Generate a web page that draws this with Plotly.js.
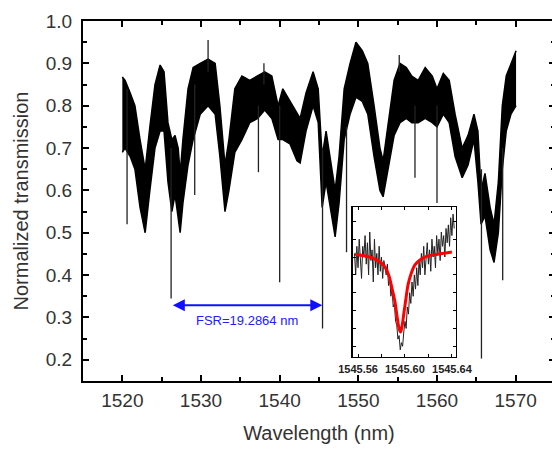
<!DOCTYPE html>
<html>
<head>
<meta charset="utf-8">
<script src="https://cdn.plot.ly/plotly-3.0.1.min.js"></script>
<style>
html,body{margin:0;padding:0;background:#fff;overflow:hidden;width:552px;height:449px;}
#chart{width:556px;height:449px;}
</style>
</head>
<body>
<div id="chart"></div>
<script>
// ---- main spectrum: envelope of the dense noisy trace ----
const wavelength = [1520.0,1520.35,1521.0,1521.6,1522.25,1522.9,1523.5,1524.15,1524.8,1525.3,1525.8,1526.3,1526.7,1527.1,1527.35,1527.7,1528.35,1529.0,1529.9,1530.9,1531.8,1532.4,1533.05,1533.55,1534.3,1535.2,1536.2,1537.2,1538.1,1539.0,1539.8,1540.4,1541.3,1542.2,1542.6,1543.35,1544.25,1544.9,1545.4,1545.9,1546.4,1547.05,1547.55,1548.2,1548.95,1549.7,1550.5,1551.2,1552.0,1552.75,1553.15,1553.8,1554.55,1555.3,1556.1,1556.8,1557.6,1558.5,1559.4,1560.0,1560.8,1561.55,1562.3,1563.2,1563.95,1564.7,1565.2,1565.6,1566.1,1566.75,1567.25,1567.8,1568.3,1568.8,1569.4,1570.05];
const upperT = [0.868,0.86,0.83,0.80,0.72,0.65,0.75,0.85,0.896,0.88,0.76,0.72,0.73,0.70,0.64,0.72,0.84,0.89,0.90,0.91,0.90,0.80,0.66,0.72,0.84,0.87,0.86,0.87,0.88,0.87,0.80,0.84,0.81,0.78,0.77,0.83,0.88,0.84,0.68,0.74,0.68,0.60,0.68,0.84,0.90,0.95,0.93,0.90,0.80,0.70,0.67,0.76,0.86,0.90,0.89,0.87,0.86,0.89,0.87,0.84,0.876,0.86,0.78,0.70,0.73,0.78,0.74,0.60,0.64,0.56,0.52,0.62,0.80,0.87,0.90,0.93];
const lowerT = [0.69,0.70,0.68,0.65,0.56,0.50,0.60,0.70,0.74,0.74,0.62,0.55,0.59,0.54,0.50,0.57,0.66,0.72,0.78,0.80,0.78,0.68,0.55,0.60,0.69,0.72,0.76,0.77,0.79,0.77,0.72,0.72,0.71,0.67,0.665,0.74,0.80,0.76,0.56,0.62,0.56,0.49,0.57,0.72,0.78,0.82,0.81,0.78,0.68,0.60,0.585,0.65,0.73,0.76,0.77,0.76,0.76,0.77,0.76,0.75,0.78,0.76,0.68,0.63,0.66,0.72,0.62,0.52,0.54,0.46,0.43,0.50,0.65,0.74,0.78,0.80];
// narrow spikes (wavelength, lowest value, highest value)
const spikeWl   = [1520.6,1526.2,1529.2,1537.3,1538.0,1540.0,1530.9,1545.45,1548.5,1555.2,1557.2,1560.0,1565.65,1568.35];
const spikeLow  = [0.52,0.345,0.589,0.643,0.85,0.383,0.88,0.274,0.454,0.88,0.63,0.57,0.203,0.388];
const spikeHigh = [0.84,0.70,0.85,0.80,0.90,0.80,0.955,0.70,0.75,0.92,0.80,0.80,0.65,0.70];

// ---- inset: zoom on the resonance near 1545.60 nm ----
const insetWl = [];
for (let i = 0; i <= 85; i++) insetWl.push(+(1545.557 + i*0.001).toFixed(3));
const insetT = [0.56,0.50,0.58,0.52,0.60,0.54,0.49,0.58,0.55,0.61,0.53,0.59,0.50,0.62,0.54,0.57,0.48,0.60,0.52,0.56,0.50,0.58,0.51,0.55,0.49,0.54,0.52,0.50,0.53,0.47,0.49,0.44,0.46,0.41,0.42,0.37,0.36,0.32,0.33,0.29,0.31,0.30,0.34,0.37,0.35,0.41,0.39,0.45,0.42,0.48,0.44,0.50,0.46,0.52,0.47,0.54,0.50,0.56,0.52,0.58,0.50,0.55,0.59,0.53,0.57,0.51,0.60,0.55,0.58,0.52,0.61,0.56,0.60,0.54,0.62,0.58,0.61,0.55,0.63,0.59,0.64,0.58,0.66,0.61,0.67,0.63];
const fitWl = [1545.5574,1545.5660,1545.5728,1545.5787,1545.5830,1545.5864,1545.5889,1545.5915,1545.5932,1545.5949,1545.5962,1545.5974,1545.5991,1545.6009,1545.6026,1545.6051,1545.6085,1545.6128,1545.6196,1545.6281,1545.6400];
const fitT  = [0.558,0.553,0.547,0.536,0.522,0.497,0.463,0.424,0.385,0.351,0.340,0.354,0.393,0.435,0.472,0.502,0.528,0.542,0.553,0.558,0.564];

// axis tick labels
const xTicks = [1520,1530,1540,1550,1560,1570];
const yTicks = [0.2,0.3,0.4,0.5,0.6,0.7,0.8,0.9,1.0];
const insetTickVals = [1545.56,1545.58,1545.60,1545.62,1545.64];
const insetTickText = ['1545.56','','1545.60','','1545.64'];
// FSR annotation
const fsrStart = 1526.23, fsrEnd = 1545.42, fsrLevel = 0.329;
const fsrLabel = 'FSR=19.2864 nm';

const sx = [], sy = [];
spikeWl.forEach((w,i)=>{ sx.push(w,w,null); sy.push(spikeLow[i],spikeHigh[i],null); });

const traces = [
  {x: wavelength, y: upperT, type:'scatter', mode:'lines', line:{color:'#000',width:1.5}, hoverinfo:'skip'},
  {x: wavelength, y: lowerT, type:'scatter', mode:'lines', line:{color:'#000',width:1.5}, fill:'tonexty', fillcolor:'#000', hoverinfo:'skip'},
  {x: sx, y: sy, type:'scatter', mode:'lines', line:{color:'#222',width:1.3}, hoverinfo:'skip'},
  {x: insetWl, y: insetT, xaxis:'x2', yaxis:'y2', type:'scatter', mode:'lines', line:{color:'#222',width:1}},
  {x: fitWl, y: fitT, xaxis:'x2', yaxis:'y2', type:'scatter', mode:'lines', line:{color:'#ff0000',width:3, shape:'spline'}}
];

const font = {family:'"Liberation Sans", Arial, sans-serif', color:'#333'};

const layout = {
  width:556, height:449,
  margin:{l:83, r:1, t:21, b:68},
  showlegend:false,
  paper_bgcolor:'#fff', plot_bgcolor:'rgba(0,0,0,0)',
  font: Object.assign({size:19}, font),
  xaxis:{
    range:[1515,1575], tickvals:xTicks, ticks:'inside', ticklen:6, tickwidth:2, tickcolor:'#000',
    showline:true, linewidth:2, linecolor:'#000', mirror:'ticks', showgrid:false, zeroline:false,
    minor:{dtick:5, tick0:1515, ticks:'inside', ticklen:4, tickwidth:2, tickcolor:'#000'},
    tickfont:Object.assign({size:19}, font), ticklabelstandoff:1,
    title:{text:'Wavelength (nm)', font:Object.assign({size:20}, font), standoff:16}
  },
  yaxis:{
    range:[0.15,1.0], tickvals:yTicks, tickformat:'.1f', ticks:'inside', ticklen:6, tickwidth:2, tickcolor:'#000',
    showline:true, linewidth:2, linecolor:'#000', mirror:'ticks', showgrid:false, zeroline:false,
    minor:{dtick:0.05, tick0:0.15, ticks:'inside', ticklen:4, tickwidth:2, tickcolor:'#000'},
    tickfont:Object.assign({size:19}, font), ticklabelstandoff:5,
    title:{text:'Normalized transmission', font:Object.assign({size:20}, font), standoff:12}
  },
  xaxis2:{
    domain:[0.572,0.790], anchor:'y2', range:[1545.5557,1545.6434],
    tickvals:insetTickVals, ticktext:insetTickText, ticks:'inside', ticklen:3, tickwidth:1, tickcolor:'#000',
    showline:true, linewidth:1.5, linecolor:'#000', mirror:'allticks', showgrid:false, zeroline:false,
    tickfont:{family:'"Liberation Sans", Arial, sans-serif', size:11, color:'#222', weight:'bold'}, ticklabelstandoff:1
  },
  yaxis2:{
    domain:[0.0667,0.4833], anchor:'x2', range:[0.27,0.69], dtick:0.05, tick0:0.3,
    ticks:'inside', ticklen:3, tickwidth:1, tickcolor:'#000', showticklabels:false,
    showline:true, linewidth:1.5, linecolor:'#000', mirror:'allticks', showgrid:false, zeroline:false
  },
  shapes:[
    {type:'rect', xref:'x2 domain', yref:'y2 domain', x0:0, x1:1, y0:0, y1:1, fillcolor:'#fff', line:{width:0}, layer:'below'}
  ],
  annotations:[
    {x:fsrEnd, y:fsrLevel, ax:fsrStart, ay:fsrLevel, xref:'x', yref:'y', axref:'x', ayref:'y',
     text:'', showarrow:true, arrowside:'end+start', arrowhead:2, arrowsize:1.2, arrowwidth:2, arrowcolor:'#1010ff', standoff:0, startstandoff:0},
    {x:(fsrStart+fsrEnd)/2, y:0.294, xref:'x', yref:'y', text:fsrLabel, showarrow:false,
     font:{family:'"Liberation Sans", Arial, sans-serif', size:13, color:'#2020ff'}}
  ]
};

Plotly.newPlot('chart', traces, layout, {displayModeBar:false, staticPlot:true});
</script>
</body>
</html>
